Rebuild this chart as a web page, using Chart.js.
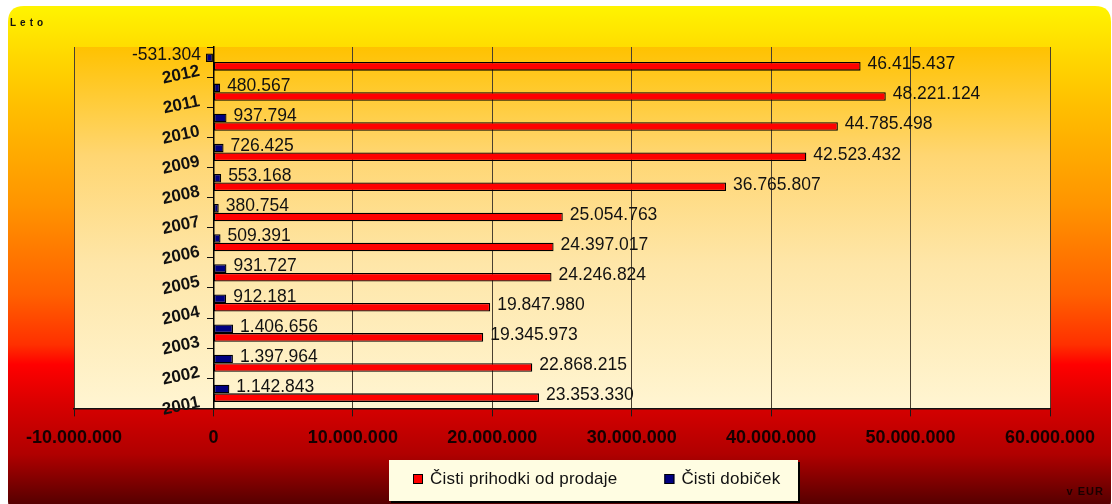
<!DOCTYPE html>
<html>
<head>
<meta charset="utf-8">
<script src="https://cdn.jsdelivr.net/npm/chart.js@4.4.1/dist/chart.umd.min.js"></script>
<style>
html,body{margin:0;padding:0;background:#ffffff;}
#wrap{width:1112px;height:504px;position:relative;}
canvas{display:block;}
</style>
</head>
<body>
<div id="wrap"><canvas id="c" width="1112" height="504"></canvas></div>
<script>
// ---- data ----
const years = ['2012','2011','2010','2009','2008','2007','2006','2005','2004','2003','2002','2001'];
const revenue = [46415437, 48221124, 44785498, 42523432, 36765807, 25054763, 24397017, 24246824, 19847980, 19345973, 22868215, 23353330];
const profit = [-531304, 480567, 937794, 726425, 553168, 380754, 509391, 931727, 912181, 1406656, 1397964, 1142843];
const xMin = -10000000;
const xMax = 60000000;
const xStep = 10000000;
const revenueName = 'Čisti prihodki od prodaje';
const profitName = 'Čisti dobiček';
const categoryTitle = 'Leto';
const valueTitle = 'v EUR';

const FONT = "'Liberation Sans', Arial, Helvetica, sans-serif";

function fmt(v) {
  const s = Math.abs(Math.round(v)).toString().replace(/\B(?=(\d{3})+(?!\d))/g, '.');
  return (v < 0 ? '-' : '') + s;
}

// background + plot area gradient
const backdrop = {
  id: 'backdrop',
  beforeDraw(chart) {
    const ctx = chart.ctx;
    const W = chart.width, H = chart.height;
    ctx.save();
    ctx.fillStyle = '#ffffff';
    ctx.fillRect(0, 0, W, H);
    const x0 = 8, y0 = 6, x1 = W - 1, y1 = H + 12, r = 16;
    const g = ctx.createLinearGradient(0, y0, 0, H);
    g.addColorStop(0.00, '#fff400');
    g.addColorStop(0.10, '#ffd800');
    g.addColorStop(0.20, '#ffbf00');
    g.addColorStop(0.40, '#ff9400');
    g.addColorStop(0.58, '#ff6000');
    g.addColorStop(0.68, '#ff3000');
    g.addColorStop(0.72, '#ff0000');
    g.addColorStop(0.80, '#d80000');
    g.addColorStop(0.90, '#b00000');
    g.addColorStop(1.00, '#560000');
    ctx.fillStyle = g;
    ctx.beginPath();
    ctx.moveTo(x0 + r, y0);
    ctx.lineTo(x1 - r, y0);
    ctx.quadraticCurveTo(x1, y0, x1, y0 + r);
    ctx.lineTo(x1, y1 - r);
    ctx.quadraticCurveTo(x1, y1, x1 - r, y1);
    ctx.lineTo(x0 + r, y1);
    ctx.quadraticCurveTo(x0, y1, x0, y1 - r);
    ctx.lineTo(x0, y0 + r);
    ctx.quadraticCurveTo(x0, y0, x0 + r, y0);
    ctx.closePath();
    ctx.fill();

    const a = chart.chartArea;
    const pg = ctx.createLinearGradient(0, a.top, 0, a.bottom);
    pg.addColorStop(0, '#ffc200');
    pg.addColorStop(0.3, '#ffd672');
    pg.addColorStop(0.6, '#fee6a8');
    pg.addColorStop(1, '#fff5d2');
    ctx.fillStyle = pg;
    ctx.fillRect(a.left, a.top, a.right - a.left, a.bottom - a.top);
    ctx.restore();
  }
};

// value labels next to bars
const valueLabels = {
  id: 'valueLabels',
  afterDatasetsDraw(chart) {
    const ctx = chart.ctx;
    ctx.save();
    ctx.font = '17.5px ' + FONT;
    ctx.fillStyle = '#111111';
    ctx.textBaseline = 'middle';
    chart.data.datasets.forEach((ds, di) => {
      const meta = chart.getDatasetMeta(di);
      meta.data.forEach((el, i) => {
        const v = ds.data[i];
        const txt = fmt(v);
        if (v < 0) {
          ctx.textAlign = 'right';
          ctx.fillText(txt, Math.min(el.x, el.base) - 5, el.y - 3);
        } else {
          ctx.textAlign = 'left';
          ctx.fillText(txt, Math.max(el.x, el.base) + 7, el.y - 2);
        }
      });
    });
    ctx.restore();
  }
};

// titles + custom legend box
const extras = {
  id: 'extras',
  afterDraw(chart) {
    const ctx = chart.ctx;
    ctx.save();
    // category axis title
    ctx.fillStyle = '#111111';
    ctx.font = 'bold 10px ' + FONT;
    ctx.textBaseline = 'middle';
    ctx.textAlign = 'left';
    try { ctx.letterSpacing = '4px'; } catch (e) {}
    ctx.fillText(categoryTitle, 10, 23);
    // value axis unit
    ctx.font = 'bold 11px ' + FONT;
    try { ctx.letterSpacing = '1px'; } catch (e) {}
    ctx.fillStyle = '#1a0000';
    ctx.textAlign = 'right';
    ctx.fillText(valueTitle, 1104, 492);
    try { ctx.letterSpacing = '0.2px'; } catch (e) {}

    // legend
    const box = {x: 389, y: 460, w: 409, h: 41};
    ctx.fillStyle = '#000000';
    ctx.fillRect(box.x + 2, box.y + 2, box.w, box.h);
    ctx.fillStyle = '#fffde2';
    ctx.fillRect(box.x, box.y, box.w, box.h);
    ctx.font = '17px ' + FONT;
    ctx.textAlign = 'left';
    ctx.textBaseline = 'middle';
    const cy = box.y + 19;
    const items = [chart.data.datasets[1], chart.data.datasets[0]];
    let x = box.x + 24;
    items.forEach((ds) => {
      ctx.fillStyle = ds.backgroundColor;
      ctx.fillRect(x, cy - 5, 10, 10);
      ctx.strokeStyle = '#000000';
      ctx.lineWidth = 1;
      ctx.strokeRect(x + 0.5, cy - 4.5, 9, 9);
      ctx.fillStyle = '#111111';
      ctx.fillText(ds.label, x + 17, cy);
      x += 17 + ctx.measureText(ds.label).width + 47;
    });
    ctx.restore();
  }
};

Chart.defaults.font.family = FONT;

new Chart(document.getElementById('c'), {
  type: 'bar',
  data: {
    labels: years,
    datasets: [
      {
        label: profitName,
        data: profit,
        backgroundColor: '#000080',
        borderColor: '#000000',
        borderWidth: 1.3,
        borderSkipped: false,
        barPercentage: 1,
        categoryPercentage: 0.57
      },
      {
        label: revenueName,
        data: revenue,
        backgroundColor: '#ff0000',
        borderColor: '#000000',
        borderWidth: 1.3,
        borderSkipped: false,
        barPercentage: 1,
        categoryPercentage: 0.57
      }
    ]
  },
  options: {
    indexAxis: 'y',
    responsive: false,
    animation: false,
    devicePixelRatio: 1,
    layout: {padding: {left: 74, right: 62, top: 47, bottom: 44}},
    scales: {
      x: {
        type: 'linear',
        min: xMin,
        max: xMax,
        ticks: {
          stepSize: xStep,
          callback: (v) => fmt(v),
          font: {size: 18, weight: 'bold', family: FONT},
          color: '#160000',
          padding: 11,
          maxRotation: 0
        },
        grid: {color: '#4a4030', lineWidth: 1, tickLength: 8, tickColor: '#1a1a1a'},
        border: {color: '#111111', width: 1.5}
      },
      y: {
        position: {x: 0},
        ticks: {
          // trailing spaces keep the slanted year labels clear of the axis line
          callback: function (v, i) { return this.getLabelForValue(v) + '   '; },
          font: {size: 17, weight: 'bold', family: FONT},
          color: '#111111',
          minRotation: 12,
          maxRotation: 12,
          labelOffset: 6,
          padding: 8
        },
        grid: {drawOnChartArea: false, tickLength: 6, tickColor: '#111111', offset: true},
        border: {color: '#000000', width: 1.5}
      }
    },
    plugins: {
      legend: {display: false},
      tooltip: {enabled: false}
    }
  },
  plugins: [backdrop, valueLabels, extras]
});
</script>
</body>
</html>
